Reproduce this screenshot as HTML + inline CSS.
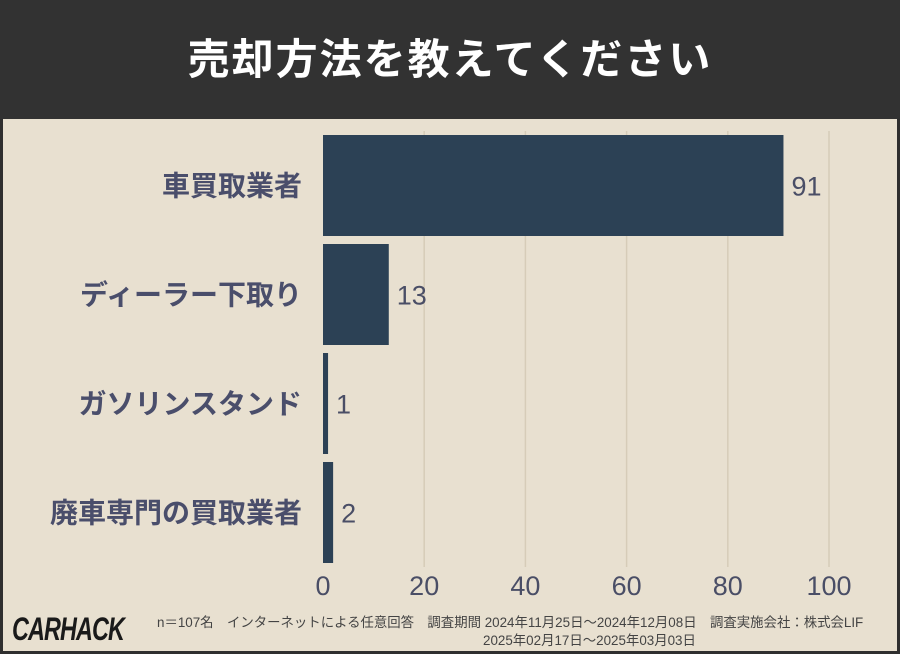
<!DOCTYPE html>
<html><head><meta charset="utf-8"><style>
body{margin:0;width:900px;height:654px;overflow:hidden;background:#e8e0d0;font-family:"Liberation Sans","Noto Sans CJK JP",sans-serif}
#frame{position:absolute;left:0;top:0;width:894px;height:651px;border:3px solid #2f2f2f;border-top:none;background:#e8e0d0}
#hdr{position:absolute;left:0;top:0;width:900px;height:119px;background:#323232;color:#fff;font-size:42px;font-weight:bold;text-align:center;line-height:119px;letter-spacing:2px}
svg{position:absolute;left:0;top:0}
.foot{position:absolute;font-size:13.4px;color:#444;white-space:nowrap}
#logo{position:absolute;left:12px;top:610px;font-size:26px;font-weight:900;font-style:italic;color:#1a1a1a;letter-spacing:-1px;transform:scaleX(0.9) scaleY(1.25);transform-origin:left top}
</style></head><body>
<div id="frame"></div>
<div id="hdr">売却方法を教えてください</div>
<svg id="chart" width="900" height="654"></svg>
<div id="logo">CARHACK</div>
<div class="foot" style="left:157px;top:611px">n＝107名　インターネットによる任意回答　調査期間 2024年11月25日〜2024年12月08日　調査実施会社：株式会LIF</div>
<div class="foot" style="left:483px;top:629px">2025年02月17日〜2025年03月03日</div>
<script>
const categories=["車買取業者","ディーラー下取り","ガソリンスタンド","廃車専門の買取業者"];
const values=[91,13,1,2];
const ticks=[0,20,40,60,80,100];
const svg=document.getElementById('chart');
const NS='http://www.w3.org/2000/svg';
const x0=323,x1=829,yTop=131,band=109,barH=101;
const xs=v=>x0+(v-0)/(100-0)*(x1-x0);
function mk(t,a){const e=document.createElementNS(NS,t);for(const k in a)e.setAttribute(k,a[k]);svg.appendChild(e);return e;}
ticks.forEach(t=>{
 if(t>0){const g=mk('line',{x1:xs(t),x2:xs(t),y1:yTop,y2:yTop+band*4,stroke:'#d6ccb8','stroke-width':1.5});
 
 }
 const l=mk('text',{x:xs(t),y:595,'text-anchor':'middle','font-size':27,fill:'#4a4e66'});
 l.textContent=t;
 
 
});
categories.forEach((c,i)=>{
 const y=yTop+4+i*band;
 const r=mk('rect',{x:x0,y:y,width:xs(values[i])-x0,height:barH,fill:'#2c4155'});
 
 
 const v=mk('text',{x:xs(values[i])+8,y:y+barH/2+10,'font-size':27,fill:'#4a4e66'});
 v.textContent=values[i];
 
 
 const l=mk('text',{x:302,y:y+barH/2+10,'text-anchor':'end','font-size':28,'font-weight':'bold',fill:'#4a4e6b'});
 l.textContent=c;
 
 
});
</script>
</body></html>
